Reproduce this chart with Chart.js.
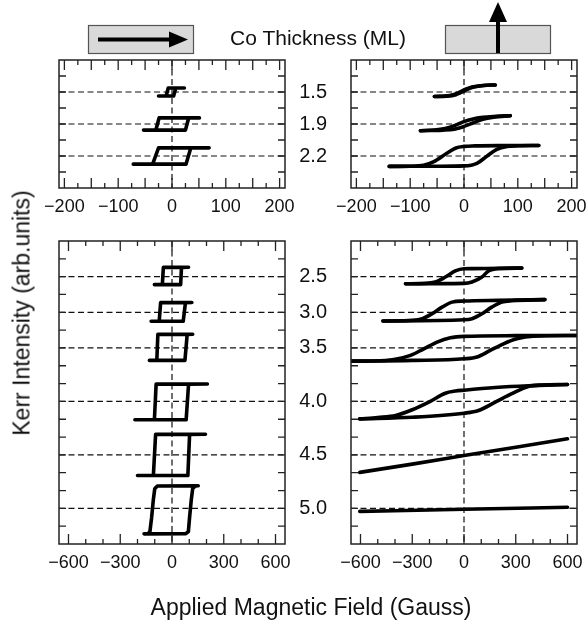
<!DOCTYPE html>
<html>
<head>
<meta charset="utf-8">
<script src="https://cdn.jsdelivr.net/npm/chart.js@4.4.0/dist/chart.umd.min.js"></script>
<style>
  body { margin: 0; background: #fff; }
  #wrap { position: relative; width: 587px; height: 626px; overflow: hidden;
          font-family: "Liberation Sans", Arial, sans-serif; color: #111; }
  canvas { position: absolute; left: 0; top: 0; }
  .txt { position: absolute; white-space: nowrap; transform: translate(-50%, -50%); }
  #ytitle { transform: translate(-50%, -50%) rotate(-90deg); }
  svg { position: absolute; left: 0; top: 0; }
</style>
</head>
<body>
<div id="wrap">
  <svg width="587" height="60">
    <rect x="88.5" y="25.5" width="105" height="28" fill="#d9d9d9" stroke="#555" stroke-width="1.2"/>
    <line x1="98" y1="39.5" x2="172" y2="39.5" stroke="#000" stroke-width="4"/>
    <polygon points="169,31.5 188,39.5 169,47.5" fill="#000"/>
    <rect x="445.5" y="25.5" width="105" height="28" fill="#d9d9d9" stroke="#555" stroke-width="1.2"/>
    <line x1="498" y1="53" x2="498" y2="19" stroke="#000" stroke-width="4"/>
    <polygon points="489,22 498,2 507,22" fill="#000"/>
  </svg>
  <canvas id="tl" width="587" height="626"></canvas>
  <canvas id="tr" width="587" height="626"></canvas>
  <canvas id="bl" width="587" height="626"></canvas>
  <canvas id="br" width="587" height="626"></canvas>
  <div class="txt" id="title" style="left:318px; top:38px; font-size:21px;">Co Thickness (ML)</div>
  <div class="txt" id="xtitle" style="left:311px; top:607px; font-size:23px;">Applied Magnetic Field (Gauss)</div>
  <div class="txt" id="ytitle" style="left:22px; top:313px; font-size:23px;">Kerr Intensity (arb.units)</div>
</div>
<script>
// tick labels
const topFieldTicks = [-200, -100, 0, 100, 200];
const bottomFieldTicks = [-600, -300, 0, 300, 600];

// Co thickness rows and the level each one sits on
const topThickness = ["1.5", "1.9", "2.2"];
const topLevels = [6, 4, 2];
const bottomThickness = ["2.5", "3.0", "3.5", "4.0", "4.5", "5.0"];
const bottomLevels = [15, 13, 11, 8, 5, 2];

// top left: [field (G), kerr]
const tl15 = [[-25, 5.75], [3, 5.75], [7, 6.25], [23, 6.25], [-7, 6.25], [-11, 5.75], [-25, 5.75]];
const tl19 = [[-53, 3.62], [25, 3.62], [31, 4.38], [51, 4.38], [-24, 4.38], [-30, 3.62], [-53, 3.62]];
const tl22 = [[-72, 1.49], [26, 1.49], [35, 2.51], [69, 2.51], [-25, 2.51], [-36, 1.49], [-72, 1.49]];

// top right, branch by branch
const tr15Down = [[-55, 5.72], [-35, 5.75], [-20, 5.83], [-11, 5.95], [-4, 6.06], [3, 6.17], [15, 6.31], [35, 6.41], [58, 6.44]];
const tr15Up = [[-55, 5.72], [-32, 5.74], [-15, 5.83], [-7, 5.95], [0, 6.06], [6, 6.17], [18, 6.31], [37, 6.41], [58, 6.44]];
const tr19Down = [[-81, 3.58], [-55, 3.62], [-35, 3.72], [-18, 3.9], [0, 4.15], [15, 4.3], [35, 4.42], [60, 4.48], [86, 4.52]];
const tr19Up = [[-81, 3.58], [-40, 3.62], [-18, 3.68], [0, 3.85], [18, 4.08], [35, 4.3], [55, 4.43], [86, 4.52]];
const tr22Down = [[-139, 1.35], [-100, 1.36], [-75, 1.42], [-56, 1.65], [-32, 2.17], [-15, 2.5], [0, 2.6], [20, 2.63], [80, 2.65], [139, 2.66]];
const tr22Up = [[-139, 1.35], [-50, 1.36], [0, 1.38], [24, 1.54], [43, 2.0], [61, 2.42], [80, 2.6], [100, 2.64], [139, 2.66]];

// bottom left
const bl25 = [[-102, 14.55], [50, 14.55], [55, 15.52], [96, 15.53], [-50, 15.52], [-56, 14.55], [-102, 14.55]];
const bl30 = [[-121, 12.5], [65, 12.5], [78, 13.54], [115, 13.55], [-66, 13.54], [-74, 12.5], [-121, 12.5]];
const bl35 = [[-131, 10.3], [75, 10.3], [88, 11.76], [120, 11.77], [-82, 11.76], [-88, 10.3], [-131, 10.3]];
const bl40 = [[-215, 6.97], [82, 6.97], [96, 8.97], [205, 8.98], [-92, 8.97], [-102, 6.97], [-215, 6.97]];
const bl45 = [[-200, 3.84], [92, 3.84], [102, 6.15], [194, 6.16], [-95, 6.15], [-108, 3.84], [-200, 3.84]];
const bl50 = [[-162, 0.57], [80, 0.58], [95, 0.7], [102, 1.5], [112, 2.5], [120, 3.12], [135, 3.25], [152, 3.27],
              [-85, 3.25], [-100, 3.1], [-108, 2.5], [-118, 1.5], [-128, 0.7], [-140, 0.57], [-162, 0.57]];

// bottom right
const br25Down = [[-339, 14.6], [-223, 14.62], [-166, 14.7], [-108, 14.98], [-50, 15.32], [0, 15.44], [50, 15.45], [200, 15.47], [335, 15.48]];
const br25Up = [[-339, 14.6], [-100, 14.61], [0, 14.62], [46, 14.7], [104, 14.98], [142, 15.32], [200, 15.45], [335, 15.48]];
const br30Down = [[-470, 12.51], [-300, 12.55], [-242, 12.64], [-185, 12.92], [-127, 13.29], [-69, 13.57], [0, 13.63], [200, 13.67], [469, 13.71]];
const br30Up = [[-470, 12.51], [0, 12.58], [46, 12.64], [104, 12.92], [161, 13.29], [219, 13.57], [277, 13.65], [469, 13.71]];
const br35Down = [[-655, 10.26], [-521, 10.27], [-406, 10.35], [-310, 10.58], [-233, 10.95], [-156, 11.33], [-79, 11.57], [0, 11.65], [300, 11.69], [655, 11.7]];
const br35Up = [[-655, 10.26], [-300, 10.3], [0, 10.39], [75, 10.49], [152, 10.86], [229, 11.23], [306, 11.51], [402, 11.66], [655, 11.7]];
const br40Down = [[-604, 7.02], [-500, 7.1], [-396, 7.21], [-300, 7.53], [-204, 7.96], [-108, 8.46], [-50, 8.58], [0, 8.63], [181, 8.78], [373, 8.88], [600, 8.95]];
const br40Up = [[-604, 7.02], [-300, 7.11], [0, 7.34], [84, 7.49], [181, 7.96], [277, 8.43], [373, 8.84], [450, 8.92], [600, 8.95]];
const br45 = [[-604, 4.02], [-300, 4.48], [0, 4.96], [300, 5.43], [600, 5.9]];
const br50 = [[-604, 1.83], [0, 1.95], [600, 2.06]];

const W = 587, H = 626;
const FONT = "'Liberation Sans', Arial, sans-serif";

function loop(points, smooth) {
  return {
    data: points.map(p => ({ x: p[0], y: p[1] })),
    showLine: true,
    borderColor: "#000",
    borderWidth: 3.6,
    pointRadius: 0,
    fill: false,
    tension: 0,
    cubicInterpolationMode: smooth ? "monotone" : "default",
    borderJoinStyle: "round",
    borderCapStyle: "round"
  };
}

// dashed reference lines, inward ticks and the box round each panel
function framePlugin(levels, xMax, yMax, xMinor, xMajor) {
  return {
    id: "frame",
    beforeDatasetsDraw(chart) {
      const { ctx, chartArea: a, scales: { x, y } } = chart;
      ctx.save();
      ctx.strokeStyle = "#111";
      ctx.lineWidth = 1.2;
      ctx.setLineDash([6, 3.5]);
      ctx.beginPath();
      levels.forEach(v => {
        const py = y.getPixelForValue(v);
        ctx.moveTo(a.left, py);
        ctx.lineTo(a.right, py);
      });
      const px0 = x.getPixelForValue(0);
      ctx.moveTo(px0, a.top);
      ctx.lineTo(px0, a.bottom);
      ctx.stroke();
      ctx.restore();
    },
    afterDatasetsDraw(chart) {
      const { ctx, chartArea: a, scales: { x, y } } = chart;
      ctx.save();
      ctx.strokeStyle = "#222";
      ctx.lineWidth = 1.3;
      ctx.beginPath();
      const start = -Math.floor(xMax / xMinor) * xMinor;
      for (let v = start; v <= xMax; v += xMinor) {
        const px = x.getPixelForValue(v);
        const len = Math.abs(v % xMajor) < 1e-6 ? 10 : 5;
        ctx.moveTo(px, a.bottom); ctx.lineTo(px, a.bottom - len);
        ctx.moveTo(px, a.top); ctx.lineTo(px, a.top + len);
      }
      for (let v = 1; v < yMax; v++) {
        const py = y.getPixelForValue(v);
        ctx.moveTo(a.left, py); ctx.lineTo(a.left + 7, py);
        ctx.moveTo(a.right, py); ctx.lineTo(a.right - 7, py);
      }
      ctx.stroke();
      ctx.lineWidth = 1.5;
      ctx.strokeRect(a.left, a.top, a.right - a.left, a.bottom - a.top);
      ctx.restore();
    }
  };
}

function panel(id, area, xMax, yMax, xTicks, levels, names, xMinor, xMajor, datasets) {
  const yW = 60, xH = 34;
  new Chart(document.getElementById(id), {
    type: "scatter",
    data: { datasets: datasets },
    options: {
      responsive: false,
      animation: false,
      layout: {
        autoPadding: false,
        padding: { left: area[0] - yW, right: W - area[1], top: area[2], bottom: H - area[3] - xH }
      },
      plugins: { legend: { display: false }, tooltip: { enabled: false } },
      scales: {
        x: {
          type: "linear", min: -xMax, max: xMax,
          grid: { display: false }, border: { display: false },
          afterFit: s => { s.height = xH; },
          afterBuildTicks: s => { s.ticks = xTicks.map(v => ({ value: v })); },
          ticks: {
            autoSkip: false, maxRotation: 0, padding: 0, color: "#111",
            font: { family: FONT, size: 18 },
            callback: v => (v < 0 ? "\u2212" + Math.abs(v) : String(v))
          }
        },
        y: {
          type: "linear", min: 0, max: yMax,
          grid: { display: false }, border: { display: false },
          afterFit: s => { s.width = yW; },
          afterBuildTicks: s => { s.ticks = levels.map(v => ({ value: v })); },
          ticks: {
            display: !!names, padding: 16, color: "#111",
            font: { family: FONT, size: 20 },
            callback: v => (names ? names[levels.indexOf(v)] : "")
          }
        }
      }
    },
    plugins: [framePlugin(levels, xMax, yMax, xMinor, xMajor)]
  });
}

panel("tl", [59, 285, 60, 188], 210, 8, topFieldTicks, topLevels, null, 25, 50,
  [loop(tl15), loop(tl19), loop(tl22)]);
panel("tr", [351, 577, 60, 188], 210, 8, topFieldTicks, topLevels, topThickness, 25, 50,
  [tr15Down, tr15Up, tr19Down, tr19Up, tr22Down, tr22Up].map(b => loop(b, true)));
panel("bl", [59, 285, 241, 544], 655, 17, bottomFieldTicks, bottomLevels, null, 100, 300,
  [bl25, bl30, bl35, bl40, bl45, bl50].map(l => loop(l)));
panel("br", [351, 577, 241, 544], 655, 17, bottomFieldTicks, bottomLevels, bottomThickness, 100, 300,
  [br25Down, br25Up, br30Down, br30Up, br35Down, br35Up, br40Down, br40Up, br45, br50].map(b => loop(b, true)));
</script>
</body>
</html>
